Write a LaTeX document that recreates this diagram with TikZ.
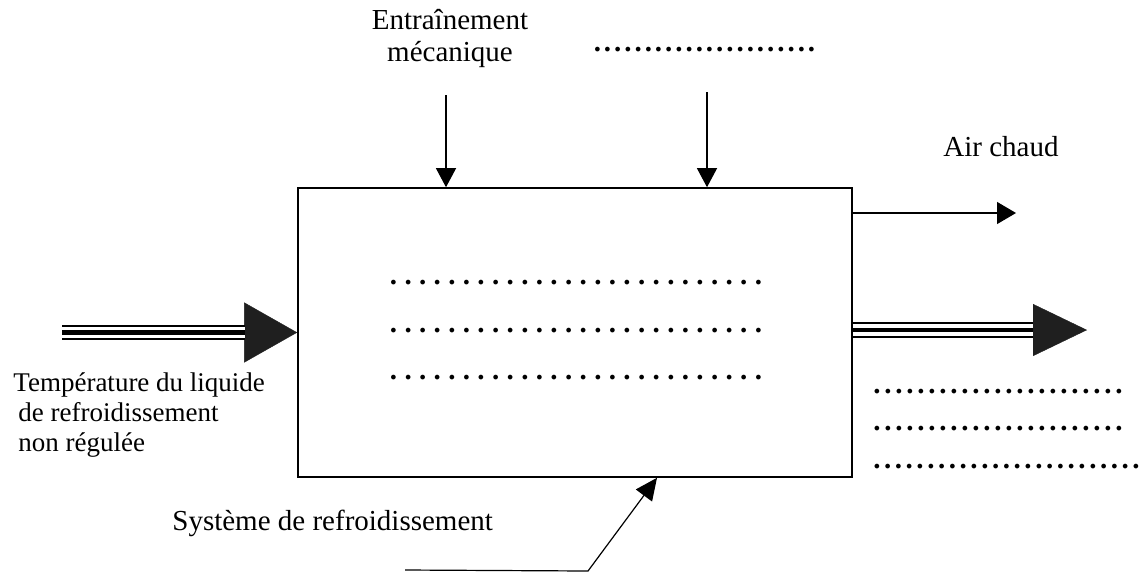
\documentclass[tikz,border=0pt]{standalone}
\usepackage{fontspec}
\setmainfont{Liberation Serif}
\usetikzlibrary{arrows.meta,calc,positioning}

\newcommand\pointilles[2]{\makebox[#1]{\xleaders\hbox to #2{\hss\textbf{.}\hss}\hfill}}

\tikzset{
	fleche/.style={line width=0.6pt, -{Triangle[length=9.5pt,width=10pt]}},
	flux/.style={draw=white, line width=5.8pt, preaction={draw=black, line width=7.6pt}, postaction={draw=black, line width=2.2pt}},
	grossepointe/.style={line width=0.2pt, black!88, -{Triangle[length=#1]}},
	libelle/.style={font=\fontsize{14.5}{16}\selectfont, inner sep=0pt},
	petit/.style={font=\fontsize{13.5}{15}\selectfont, inner sep=0pt}
}

\begin{document}
\begin{tikzpicture}[x=0.5pt, y=-0.5pt]
	%%%%% CADRE %%%%%
	\useasboundingbox (0,0) rectangle (1139,574);
	
	\node[draw, line width=0.8pt, minimum width=277pt, minimum height=144.5pt, inner sep=0pt] (sys) at (575,332.5) {};
	
	%%%%% ENTREES DU HAUT %%%%%
	\node[libelle, align=center] (entr) at (450,38) {Entraînement\\mécanique};
	\node[libelle] (ptsh) at (704.5,50) {\pointilles{112.4pt}{4.9pt}};
	
	\coordinate (mec) at (446,95);
	\coordinate (autre) at (707,92);
	\draw[fleche] (mec) -- (mec |- sys.north);
	\draw[fleche] (autre) -- (autre |- sys.north);
	
	%%%%% AIR CHAUD %%%%%
	\node[libelle, anchor=base west] (air) at (943,156) {Air chaud};
	\coordinate (airfin) at (1016,213);
	\draw[fleche, -{Triangle[length=9.5pt,width=11pt]}] (sys.east |- airfin) -- (airfin);
	
	%%%%% FLUX DOUBLES %%%%%
	\coordinate (entree) at (62,332.5);
	\coordinate (entreeb) at (245,332.5);
	\draw[grossepointe={26.5pt, width=30pt}] ($(sys.west)+(-56,0)$) -- (sys.west);
	\draw[flux] (entree) -- (entreeb);
	
	\coordinate (sortie) at (1087,330);
	\coordinate (sortieb) at (1033,330);
	\draw[grossepointe={27pt, width=26pt}] ($(sortie)+(-57,0)$) -- (sortie);
	\draw[flux] (sys.east |- sortieb) -- (sortieb);
	
	\node[petit, align=left, anchor=north west] (temp) at (13,372) {Température du liquide\\\hspace{2.5pt}de refroidissement\\\hspace{2.5pt}non régulée};
	
	%%%%% POINTILLES %%%%%
	\node[libelle] (pa) at (576,283) {\pointilles{190pt}{7.05pt}};
	\node[libelle] (pb) at (576,331) {\pointilles{190pt}{7.05pt}};
	\node[libelle] (pc) at (576,378) {\pointilles{190pt}{7.05pt}};
	
	\node[libelle] (pd) at (998,392) {\pointilles{126.5pt}{5.5pt}};
	\node[libelle] (pe) at (998,429) {\pointilles{126.5pt}{5.5pt}};
	\node[libelle] (pf) at (1006.5,467) {\pointilles{135pt}{5.4pt}};
	
	%%%%% REFROIDISSEMENT %%%%%
	\node[libelle, anchor=base west] (refr) at (172,530) {Système de refroidissement};
	\coordinate (depart) at (405,570);
	\coordinate (coude) at (588,571);
	\draw[line width=0.6pt, -{Triangle[length=11pt,width=10pt]}] (depart) -- (coude) -- ($(sys.south)+(82,0)$);
	
\end{tikzpicture}
\end{document}
